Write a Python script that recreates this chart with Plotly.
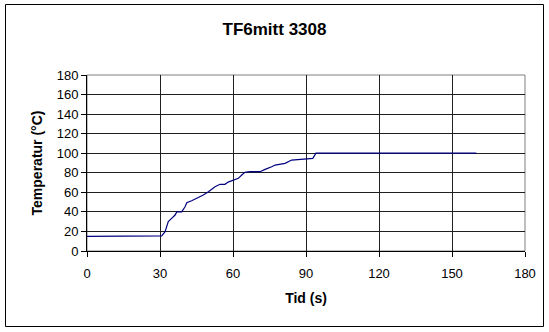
import plotly.graph_objects as go

time_s = [0, 30, 30.7, 32.1, 33.4, 34.8, 36.2, 36.9, 38.9, 40.3, 41, 43, 45.7, 47.8, 49.9,
          52.6, 54.7, 56.7, 58, 60.1, 62.2, 63.6, 64.9, 67, 71.1, 73.2, 74.5, 75.9, 77.3,
          80, 81.4, 84.1, 86.8, 88.9, 90.3, 92.8, 94.1, 160]
temp_c = [15, 15, 15.5, 19.7, 30, 33.4, 36.8, 40, 40, 45.3, 49.4, 51.4, 54.5, 57.3, 60.6,
          65.7, 68.2, 68.2, 70.5, 72.6, 74.3, 77.7, 80.4, 81.1, 81.1, 83.5, 84.5, 86.2, 87.9,
          89, 89.6, 93, 93.7, 93.7, 94.8, 94.8, 100, 100]
x_ticks = [0, 30, 60, 90, 120, 150, 180]
y_ticks = [0, 20, 40, 60, 80, 100, 120, 140, 160, 180]

FONT = "Liberation Sans, Arial, sans-serif"

fig = go.Figure()
fig.add_trace(go.Scatter(x=time_s, y=temp_c, mode="lines",
                         line=dict(color="#000080", width=1.2), showlegend=False))

W, H = 549, 332
L, R, T, B = 87, 24, 75, 81
pw, ph = W - L - R, H - T - B

def px2paper_x(px):
    return (px - L) / pw

def px2paper_y(py):
    return (H - B - py) / ph

fig.update_layout(
    width=W, height=H,
    margin=dict(l=L, r=R, t=T, b=B),
    paper_bgcolor="white", plot_bgcolor="white",
    font=dict(family=FONT, size=13, color="black"),
    title=dict(text="<b>TF6mitt 3308</b>", x=0.5, xanchor="center",
               y=1 - 29 / H, yanchor="middle", font=dict(size=17, family=FONT)),
    xaxis=dict(range=[0, 180], tickvals=x_ticks, ticktext=[str(v) for v in x_ticks],
               showgrid=True, gridcolor="#202020", gridwidth=1,
               showline=True, linecolor="black", linewidth=1,
               ticks="outside", ticklen=5, tickcolor="black",
               ticklabelstandoff=5,
               zeroline=False, fixedrange=True,
               title=dict(text="<b>Tid (s)</b>", font=dict(size=14), standoff=13)),
    yaxis=dict(range=[0, 180], tickvals=y_ticks, ticktext=[str(v) for v in y_ticks],
               showgrid=True, gridcolor="#202020", gridwidth=1,
               showline=True, linecolor="black", linewidth=1,
               ticks="outside", ticklen=5, tickcolor="black",
               zeroline=False, fixedrange=True,
               title=dict(text="<b>Temperatur (°C)</b>", font=dict(size=14), standoff=10)),
    shapes=[
        dict(type="rect", xref="paper", yref="paper",
             x0=0, x1=1, y0=0, y1=1, line=dict(color="#808080", width=1), layer="below"),
        dict(type="rect", xref="paper", yref="paper",
             x0=px2paper_x(5.5), x1=px2paper_x(543.5),
             y0=px2paper_y(326.5), y1=px2paper_y(4.5),
             line=dict(color="black", width=1)),
    ],
)

fig.write_html("out.html", config={"displayModeBar": False},
               post_script="document.body.style.margin='0';document.body.style.padding='0';")
